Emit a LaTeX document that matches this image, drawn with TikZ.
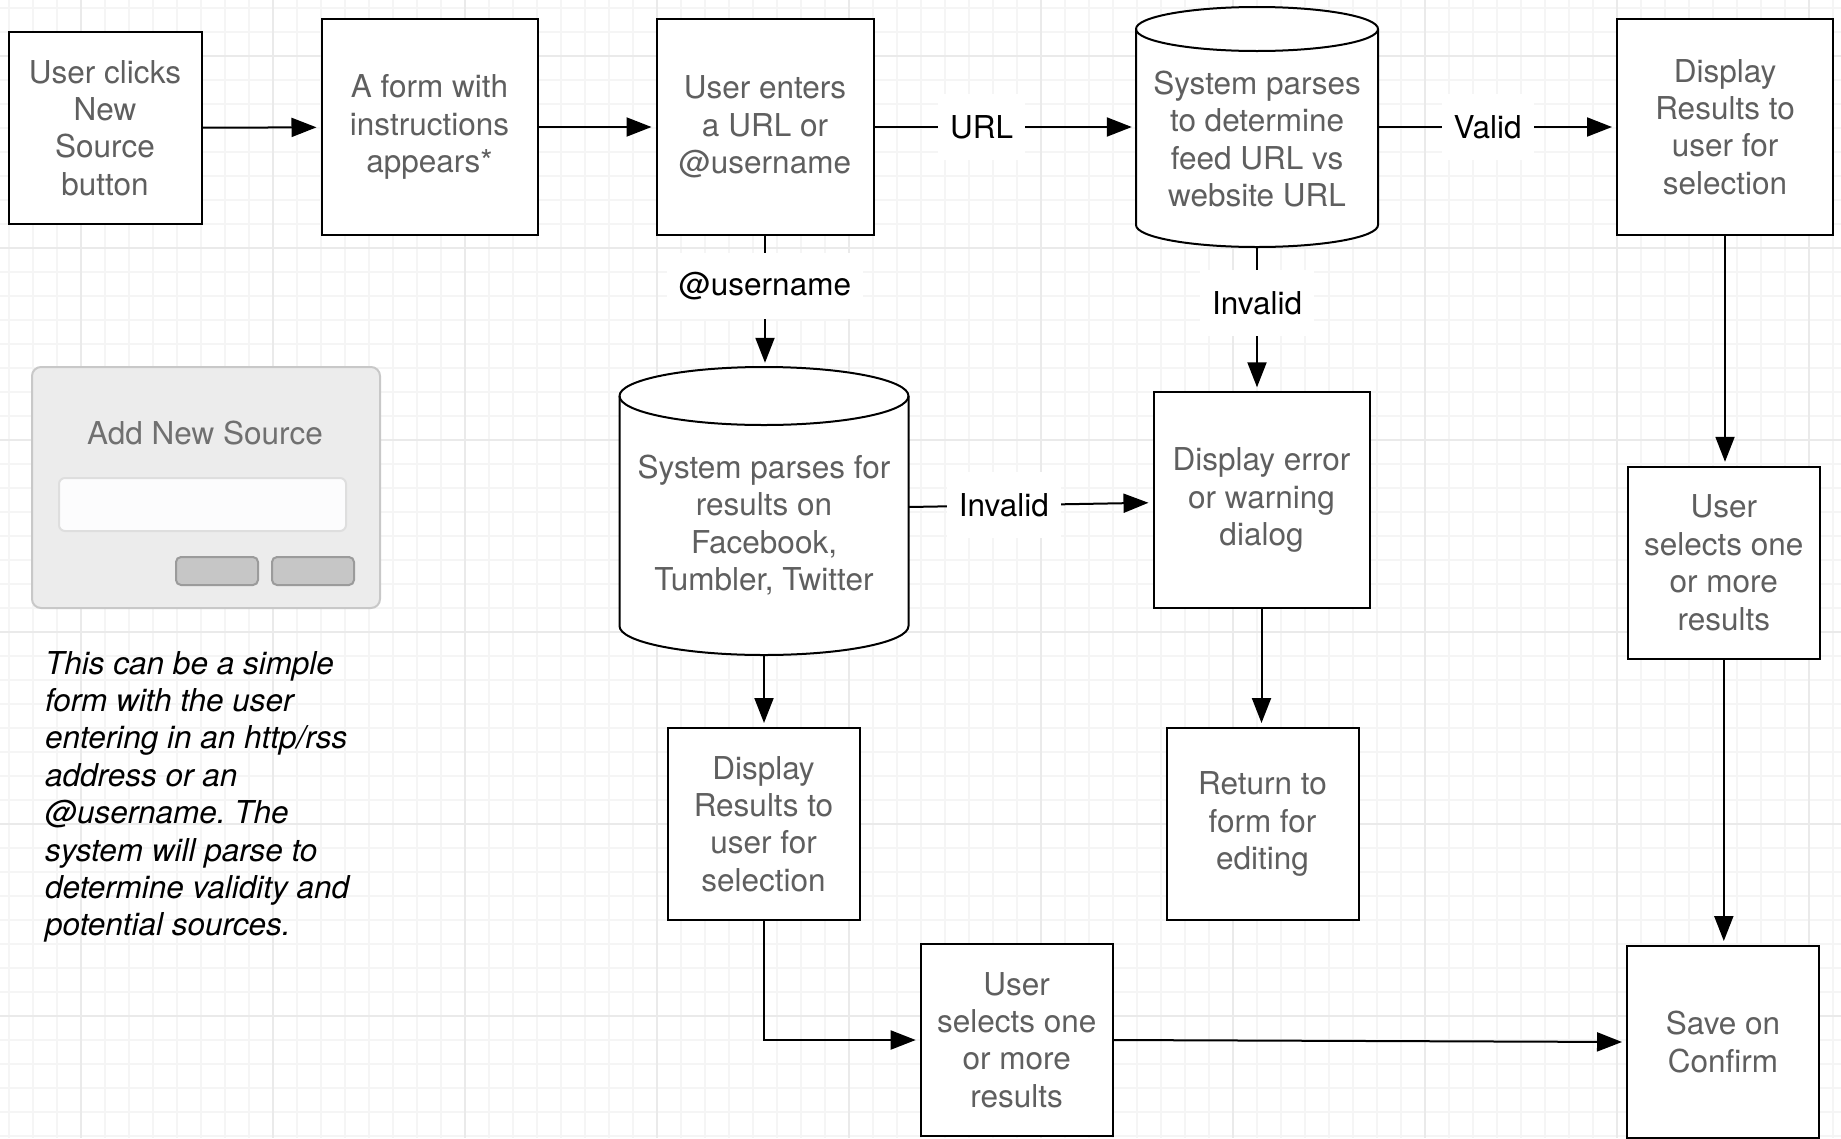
\documentclass[tikz,border=0pt]{standalone}
\usepackage{fontspec}
\setmainfont{TeX Gyre Heros}
\usetikzlibrary{arrows.meta}
\frenchspacing

\definecolor{textogris}{HTML}{5F5F5F}
\definecolor{rejmenor}{HTML}{F5F5F5}
\definecolor{rejmayor}{HTML}{EAEAEA}
\definecolor{fondoform}{HTML}{ECECEC}
\definecolor{bordeform}{HTML}{C8C8C8}
\definecolor{campo}{HTML}{FCFCFD}
\definecolor{bordecampo}{HTML}{DEDEDE}
\definecolor{boton}{HTML}{C6C6C6}
\definecolor{bordeboton}{HTML}{9B9B9B}
\definecolor{titform}{HTML}{707070}

\newcommand{\letra}{\fontsize{31.5}{37.4}\selectfont}

% Cilindro: centro x, centro y, radio x, media altura, radio y
\newcommand{\cilindro}[5]{%
  \draw[line width=2pt, fill=white]
    ({#1-#3},{#2+#4-#5}) -- ({#1-#3},{#2-#4+#5})
    arc[start angle=180, end angle=360, x radius=#3, y radius=#5]
    -- ({#1+#3},{#2+#4-#5})
    arc[start angle=0, end angle=180, x radius=#3, y radius=#5] -- cycle;
  \draw[line width=2pt] ({#1-#3},{#2+#4-#5})
    arc[start angle=180, end angle=360, x radius=#3, y radius=#5];
}

\begin{document}
\begin{tikzpicture}[x=1pt, y=1pt,
    caja/.style={draw, line width=2pt, fill=white, text=textogris, align=center,
      minimum width=192pt, minimum height=192pt, inner sep=0pt, font=\letra},
    cil/.style={inner sep=0pt},
    bd/.style={text=textogris, align=center, inner sep=0pt, font=\letra},
    flecha/.style={line width=2pt, -{Triangle[length=25pt, width=19pt]}, shorten >=4pt},
    etiq/.style={fill=white, text=black, inner xsep=12pt, inner ysep=0pt,
      minimum height=66pt, font=\letra},
    nota/.style={align=left, inner sep=0pt, anchor=north west, font=\letra\itshape},
    menor/.style={rejmenor, line width=1.5pt},
    mayor/.style={rejmayor, line width=2pt},
    boton/.style={draw=bordeboton, fill=boton, line width=2pt, rounded corners=5pt}]

  \path[use as bounding box] (0,0) rectangle (1841,-1138);
  \clip (0,0) rectangle (1841,-1138);

  % Rejilla de fondo
  \foreach \x in {9,33,...,1833} \draw[menor] (\x,0) -- (\x,-1138);
  \foreach \y in {8,32,...,1136} \draw[menor] (0,-\y) -- (1841,-\y);
  \foreach \x in {81,273,...,1809} \draw[mayor] (\x,0) -- (\x,-1138);
  \foreach \y in {56,248,...,1016} \draw[mayor] (0,-\y) -- (1841,-\y);

  % Formulario de ejemplo
  \draw[draw=bordeform, fill=fondoform, line width=2pt, rounded corners=9pt]
    (32,-367) rectangle (380,-608);
  \node[text=titform, font=\letra] (titulo) at (205,-433) {Add New Source};
  \draw[draw=bordecampo, fill=campo, line width=2pt, rounded corners=6pt]
    (59,-478) rectangle (346,-531);
  \draw[boton] (176,-557) rectangle (258,-585);
  \draw[boton] (272,-557) rectangle (354,-585);

  \node[nota] (nota) at (45,-651) {This can be a simple\\form with the user\\entering in an http/rss\\address or an\\@username. The\\system will parse to\\determine validity and\\potential sources.};

  % Cilindros
  \cilindro{1257}{-127}{121}{120}{22}
  \cilindro{764}{-511}{144.5}{144}{29}
  \node[cil, minimum width=242pt, minimum height=240pt] (c1) at (1257,-127) {};
  \node[bd] (c1txt) at ([yshift=-12pt]c1.center) {System parses\\to determine\\feed URL vs\\website URL};
  \node[cil, minimum width=289pt, minimum height=288pt] (c2) at (764,-511) {};
  \node[bd] (c2txt) at ([yshift=-14pt]c2.center) {System parses for\\results on\\Facebook,\\Tumbler, Twitter};

  % Cajas
  \node[caja, minimum width=193pt] (n1) at (105,-128) {User clicks\\New\\Source\\button};
  \node[caja, minimum width=216pt, minimum height=216pt] (n2) at (429.5,-127) {A form with\\instructions\\appears*};
  \node[caja, minimum width=217pt, minimum height=216pt] (n3) at (765,-127) {User enters\\a URL or\\@username};
  \node[caja, minimum width=216pt, minimum height=216pt] (n4) at (1725,-127) {Display\\Results to\\user for\\selection};
  \node[caja, minimum width=216pt, minimum height=216pt] (n5) at (1261.5,-500.3) {Display error\\or warning\\dialog};
  \node[caja] (n6) at (1723.8,-562.8) {User\\selects one\\or more\\results};
  \node[caja] (n7) at (763.5,-824) {Display\\Results to\\user for\\selection};
  \node[caja] (n8) at (1262.5,-824) {Return to\\form for\\editing};
  \node[caja] (n9) at (1016.7,-1040) {User\\selects one\\or more\\results};
  \node[caja] (n10) at (1723,-1042) {Save on\\Confirm};

  % Conectores
  \draw[flecha] (n1) -- (n2);
  \draw[flecha] (n2) -- (n3);
  \draw[flecha] (n3) -- node[etiq, pos=0.41] (lurl) {URL} (c1);
  \draw[flecha] (c1) -- node[etiq, pos=0.46] (lvalid) {Valid} (n4);
  \draw[flecha] (n3.south) -- node[etiq, pos=0.38] (luser) {@username} (n3.south |- c2.north);
  \draw[flecha] (c1.south) -- node[etiq, pos=0.39] (linv1) {Invalid} (c1.south |- n5.north);
  \draw[flecha] ([yshift=4pt]c2.east) -- node[etiq, pos=0.39] (linv2) {Invalid} ([yshift=-2.4pt]n5.west);
  \draw[flecha] (n4.south) -- (n4.south |- n6.north);
  \draw[flecha] (c2.south) -- (c2.south |- n7.north);
  \draw[flecha] (n5.south) -- (n5.south |- n8.north);
  \draw[flecha] (n7.south) |- (n9.west);
  \draw[flecha] (n9.east) -- (n10.west);
  \draw[flecha] (n6.south) -- (n6.south |- n10.north);

\end{tikzpicture}
\end{document}
